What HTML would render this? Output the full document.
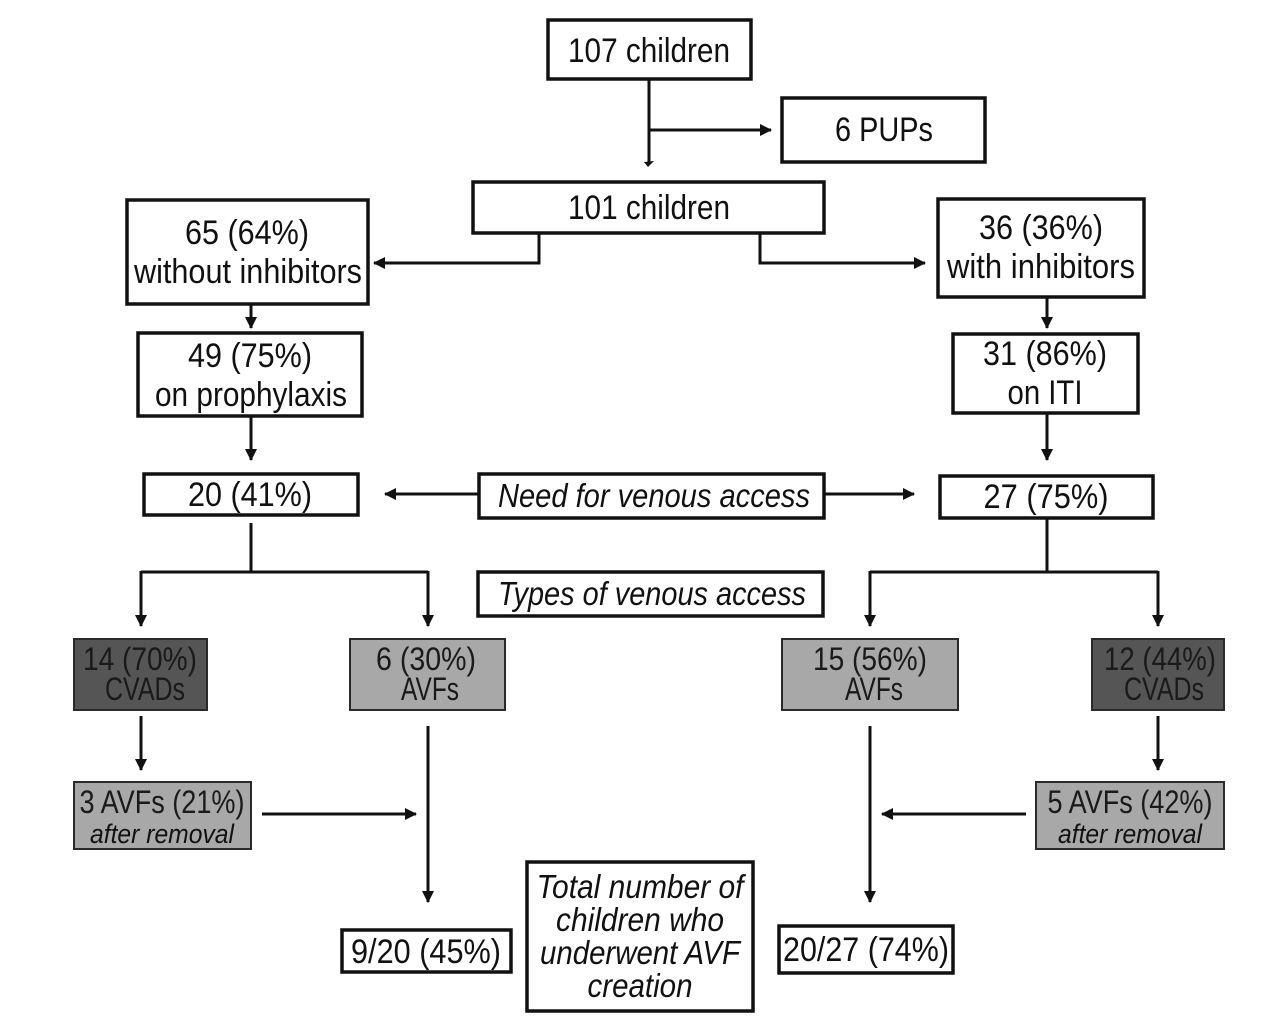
<!DOCTYPE html>
<html><head><meta charset="utf-8"><style>
html,body{margin:0;padding:0;background:#fff}
svg{display:block}
text{font-family:"Liberation Sans",sans-serif;fill:#111;text-anchor:middle}
.t{font-size:34px}
.i{font-size:33px;font-style:italic}
.s{font-size:27px;font-style:italic}
.g{font-size:32px;fill:#1a1a1a}
</style></head><body>
<svg width="1280" height="1035" viewBox="0 0 1280 1035" xmlns="http://www.w3.org/2000/svg">
<defs><marker id="a" markerWidth="13" markerHeight="12" refX="11" refY="6" orient="auto" markerUnits="userSpaceOnUse"><path d="M0 0L12 6L0 12z" fill="#111"/></marker></defs>
<g fill="none" stroke="#111" stroke-width="3.5">
<rect x="548" y="20" width="203" height="59"/>
<rect x="782" y="98" width="203" height="64"/>
<rect x="473" y="182" width="351" height="51"/>
<rect x="127" y="200" width="241" height="104"/>
<rect x="938" y="199" width="206" height="98"/>
<rect x="138" y="333" width="224" height="83"/>
<rect x="953" y="334" width="185" height="79"/>
<rect x="144" y="474" width="214" height="41"/>
<rect x="479" y="474" width="345" height="44"/>
<rect x="940" y="476" width="213" height="42"/>
<rect x="478" y="572" width="345" height="44"/>
<rect x="342" y="930" width="169" height="42"/>
<rect x="527" y="862" width="226" height="149"/>
<rect x="779" y="926" width="174" height="47"/>
</g>
<g stroke="#2a2a2a" stroke-width="2">
<rect x="74" y="639" width="133" height="71" fill="#555"/>
<rect x="350" y="639" width="155" height="71" fill="#a8a8a8"/>
<rect x="782" y="639" width="176" height="71" fill="#a8a8a8"/>
<rect x="1092" y="639" width="132" height="71" fill="#555"/>
<rect x="74" y="782" width="177" height="67" fill="#a8a8a8"/>
<rect x="1036" y="782" width="188" height="67" fill="#a8a8a8"/>
</g>
<g fill="none" stroke="#111" stroke-width="3">
<path d="M649 79V163"/>
<path d="M649 130H771" marker-end="url(#a)"/>
<path d="M539 233V263H374" marker-end="url(#a)"/>
<path d="M760 233V263H925" marker-end="url(#a)"/>
<path d="M251 304V328" marker-end="url(#a)"/>
<path d="M1047 297V328" marker-end="url(#a)"/>
<path d="M251 416V460" marker-end="url(#a)"/>
<path d="M1047 413V460" marker-end="url(#a)"/>
<path d="M479 494H385" marker-end="url(#a)"/>
<path d="M824 494H914" marker-end="url(#a)"/>
<path d="M251 523V572"/>
<path d="M141 572H428"/>
<path d="M141 571V626" marker-end="url(#a)"/>
<path d="M428 571V626" marker-end="url(#a)"/>
<path d="M1047 518V572"/>
<path d="M870 572H1158"/>
<path d="M870 571V626" marker-end="url(#a)"/>
<path d="M1158 571V626" marker-end="url(#a)"/>
<path d="M141 716V770" marker-end="url(#a)"/>
<path d="M1158 716V770" marker-end="url(#a)"/>
<path d="M428 726V902" marker-end="url(#a)"/>
<path d="M870 726V902" marker-end="url(#a)"/>
<path d="M262 814H416" marker-end="url(#a)"/>
<path d="M1026 814H882" marker-end="url(#a)"/>
</g>
<path d="M644 162L654 161L648 167z" fill="#111"/>
<text class="t" x="649" y="62" textLength="162" lengthAdjust="spacingAndGlyphs">107 children</text>
<text class="t" x="884" y="141" textLength="98" lengthAdjust="spacingAndGlyphs">6 PUPs</text>
<text class="t" x="649" y="219" textLength="162" lengthAdjust="spacingAndGlyphs">101 children</text>
<text class="t" x="247" y="244" textLength="124" lengthAdjust="spacingAndGlyphs">65 (64%)</text>
<text class="t" x="248" y="283" textLength="228" lengthAdjust="spacingAndGlyphs">without inhibitors</text>
<text class="t" x="1041" y="239" textLength="124" lengthAdjust="spacingAndGlyphs">36 (36%)</text>
<text class="t" x="1041" y="278" textLength="188" lengthAdjust="spacingAndGlyphs">with inhibitors</text>
<text class="t" x="250" y="367" textLength="124" lengthAdjust="spacingAndGlyphs">49 (75%)</text>
<text class="t" x="251" y="406" textLength="192" lengthAdjust="spacingAndGlyphs">on prophylaxis</text>
<text class="t" x="1045" y="365" textLength="124" lengthAdjust="spacingAndGlyphs">31 (86%)</text>
<text class="t" x="1045" y="404" textLength="75" lengthAdjust="spacingAndGlyphs">on ITI</text>
<text class="t" x="250" y="506" textLength="124" lengthAdjust="spacingAndGlyphs">20 (41%)</text>
<text class="i" x="654" y="507" textLength="312" lengthAdjust="spacingAndGlyphs">Need for venous access</text>
<text class="t" x="1046" y="508" textLength="125" lengthAdjust="spacingAndGlyphs">27 (75%)</text>
<text class="i" x="652" y="605" textLength="308" lengthAdjust="spacingAndGlyphs">Types of venous access</text>
<text class="g" x="140" y="670" textLength="114" lengthAdjust="spacingAndGlyphs">14 (70%)</text>
<text class="g" x="145" y="700" textLength="80" lengthAdjust="spacingAndGlyphs">CVADs</text>
<text class="g" x="426" y="670" textLength="100" lengthAdjust="spacingAndGlyphs">6 (30%)</text>
<text class="g" x="430" y="700" textLength="58" lengthAdjust="spacingAndGlyphs">AVFs</text>
<text class="g" x="870" y="670" textLength="114" lengthAdjust="spacingAndGlyphs">15 (56%)</text>
<text class="g" x="874" y="700" textLength="58" lengthAdjust="spacingAndGlyphs">AVFs</text>
<text class="g" x="1160" y="670" textLength="112" lengthAdjust="spacingAndGlyphs">12 (44%)</text>
<text class="g" x="1164" y="700" textLength="80" lengthAdjust="spacingAndGlyphs">CVADs</text>
<text class="g" x="162" y="813" textLength="165" lengthAdjust="spacingAndGlyphs">3 AVFs (21%)</text>
<text class="s" x="162" y="843" textLength="144" lengthAdjust="spacingAndGlyphs">after removal</text>
<text class="g" x="1130" y="813" textLength="165" lengthAdjust="spacingAndGlyphs">5 AVFs (42%)</text>
<text class="s" x="1130" y="843" textLength="144" lengthAdjust="spacingAndGlyphs">after removal</text>
<text class="t" x="426" y="963" textLength="150" lengthAdjust="spacingAndGlyphs">9/20 (45%)</text>
<text class="t" x="866" y="961" textLength="166" lengthAdjust="spacingAndGlyphs">20/27 (74%)</text>
<text class="i" x="640" y="898" textLength="207" lengthAdjust="spacingAndGlyphs">Total number of</text>
<text class="i" x="640" y="931" textLength="168" lengthAdjust="spacingAndGlyphs">children who</text>
<text class="i" x="640" y="964" textLength="200" lengthAdjust="spacingAndGlyphs">underwent AVF</text>
<text class="i" x="640" y="997" textLength="105" lengthAdjust="spacingAndGlyphs">creation</text>
</svg>
</body></html>
